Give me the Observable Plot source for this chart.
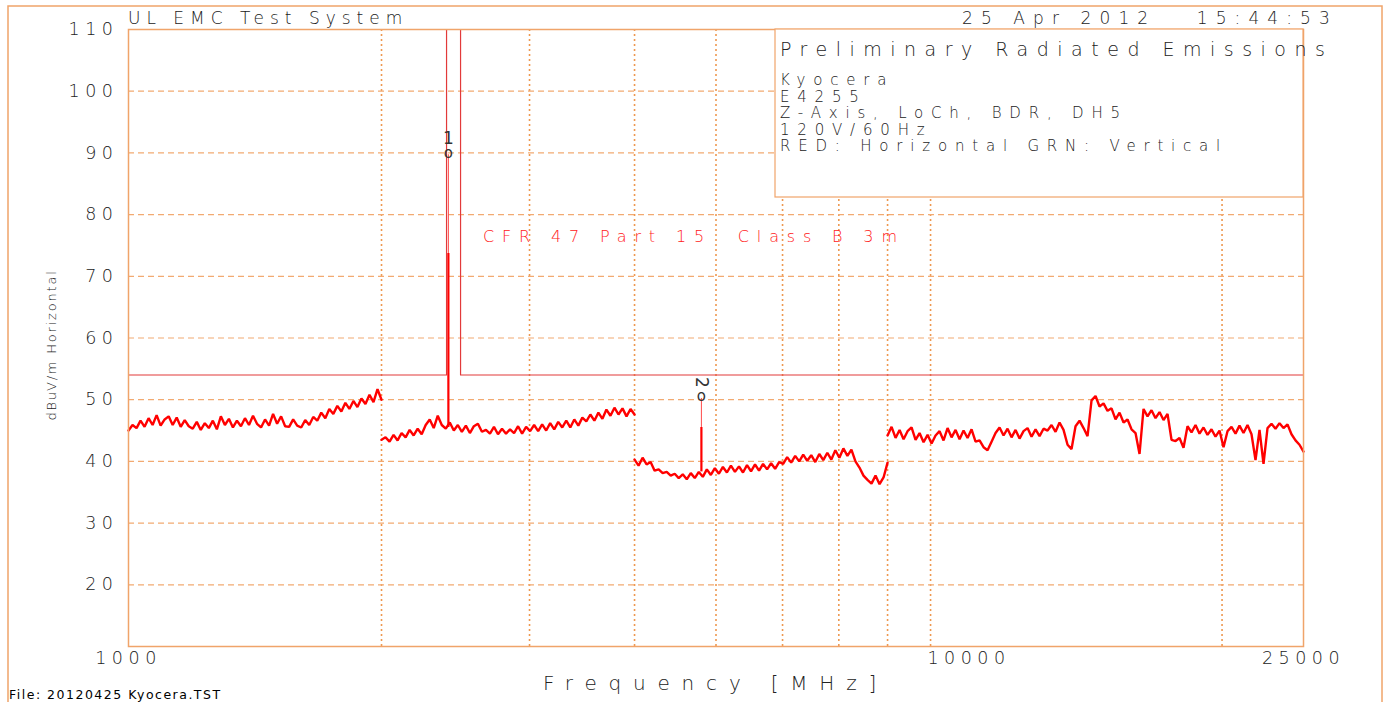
<!DOCTYPE html>
<html><head><meta charset="utf-8">
<script src="https://cdn.jsdelivr.net/npm/d3@7"></script>
<script src="https://cdn.jsdelivr.net/npm/@observablehq/plot@0.6"></script>
<style>
html,body{margin:0;padding:0;background:#fff;}
#chart{width:1393px;height:702px;overflow:hidden;}
</style></head><body><div id="chart"></div>
<script>
// ---- data ----
// sweep bands (MHz) and measured levels (dBuV/m, horizontal)
const band1 = {start: 1000, stop: 2000};
const band1Levels = [45.0,45.9,45.4,46.6,45.6,47.0,45.9,47.5,45.8,46.8,47.3,45.9,47.1,45.6,46.7,45.7,45.3,46.4,45.1,46.2,45.4,46.6,45.2,47.3,45.9,46.9,45.5,46.6,45.7,47.0,45.9,47.4,46.1,45.5,46.8,45.8,47.7,46.1,47.3,45.7,45.6,46.8,45.8,45.5,46.7,45.9,47.2,46.6,47.9,47.0,48.5,47.7,49.0,48.1,49.5,48.5,49.8,48.8,50.2,49.3,50.8,49.6,51.7,50.0];
const band2 = {start: 2000, stop: 4000};
const band2Levels = [43.5,43.9,43.2,44.3,43.4,44.6,43.9,45.1,44.2,45.3,44.4,45.9,46.8,45.4,47.4,45.9,45.3,46.3,45.0,45.9,44.8,45.8,44.6,45.7,46.1,44.8,45.1,44.5,45.6,44.4,45.3,44.5,45.2,44.6,45.7,44.5,45.6,44.9,45.9,44.9,46.0,45.0,46.2,45.2,46.4,45.5,46.6,45.5,46.8,45.8,47.1,46.5,47.6,46.6,47.9,46.9,48.4,47.4,48.7,47.6,48.6,47.3,48.5,47.6];
const band3 = {start: 4000, stop: 8000};
const band3Levels = [40.3,39.3,40.6,39.5,39.9,38.5,38.7,38.1,38.3,37.7,38.0,37.3,37.9,37.1,38.1,37.3,38.3,37.5,38.7,37.8,38.9,38.0,39.1,38.2,39.3,38.3,39.2,38.2,39.4,38.4,39.5,38.5,39.6,38.7,39.7,38.8,39.9,39.6,40.7,39.8,40.9,40.0,41.1,40.1,41.0,39.9,41.2,40.2,41.4,40.3,41.8,40.6,42.1,40.9,41.9,40.0,39.0,37.7,37.0,36.4,37.7,36.3,37.4,39.8];
const band4 = {start: 8000, stop: 25000};
const band4Levels = [44.2,45.6,43.8,45.1,43.6,44.9,45.5,43.5,44.6,43.1,44.3,42.9,44.2,44.9,43.4,45.4,43.9,45.1,43.6,45.0,43.8,45.2,43.2,43.4,42.3,41.8,43.2,44.6,45.5,44.2,45.3,43.9,45.1,43.7,44.9,45.4,44.0,45.2,44.1,45.3,45.0,45.9,44.8,46.3,45.1,42.7,42.0,45.7,46.6,45.4,44.1,49.9,50.6,48.9,49.4,48.2,48.6,46.8,47.9,46.3,46.8,45.2,44.6,41.2,48.5,47.3,48.3,47.0,48.0,46.7,47.7,43.5,43.3,43.8,42.2,45.7,44.7,45.9,44.5,45.5,44.3,45.2,44.0,45.0,42.3,44.9,45.6,44.5,45.8,44.6,45.9,44.4,40.2,45.1,39.6,45.4,46.1,45.3,46.2,45.4,46.0,44.4,43.4,42.7,41.6];

// CFR 47 Part 15 Class B 3 m limit (restricted band edges 2390 / 2483.5 MHz)
const limitFreq  = [1000, 2390, 2390, 2483.5, 2483.5, 25000];
const limitLevel = [54, 54, 110, 110, 54, 54];
const limitPart  = ["low", "low", "low", "high", "high", "high"];

// markers: fundamental and 2nd harmonic
const markerFreq  = [2402, 4804];
const markerLabel = ["1", "2"];
const markerLevel = [89.7, 50.2];
const spikeTop    = [73.7, 45.5];
const spikeBase   = [45.5, 38.3];
const markerLabelRotate = [0, 90];

// axes
const xTickValues = [1000, 10000, 25000];
const xGridValues = [2000, 3000, 4000, 5000, 6000, 7000, 8000, 9000, 20000];
const yTickValues = [20, 30, 40, 50, 60, 70, 80, 90, 100, 110];
const yGridValues = [20, 30, 40, 50, 60, 70, 80, 90, 100];

// texts
const titleText = "UL EMC Test System";
const dateText = "25 Apr 2012   15:44:53";
const boxTitle = "Preliminary Radiated Emissions";
const boxLines = ["Kyocera", "E4255", "Z-Axis, LoCh, BDR, DH5", "120V/60Hz", "RED: Horizontal GRN: Vertical"];
const limitText = "CFR 47 Part 15  Class B 3m";
const xLabel = "Frequency [MHz]";
const yLabel = "dBuV/m Horizontal";
const fileText = "File: 20120425 Kyocera.TST";

// ---- build tables ----
const bands = [[band1, band1Levels], [band2, band2Levels], [band3, band3Levels], [band4, band4Levels]];
const trace = bands.flatMap(([b, lv], k) => lv.map((v, i) => ({
  band: k, f: b.start * Math.pow(b.stop / b.start, i / (lv.length - 1)), v
})));
const limit = limitFreq.map((f, i) => ({f, v: limitLevel[i], part: limitPart[i]}));
const markers = markerFreq.map((f, i) => ({f, label: markerLabel[i], level: markerLevel[i], top: spikeTop[i], base: spikeBase[i], rot: markerLabelRotate[i]}));

const ORANGE = "#f0a46a";
const FONT = "DejaVu Sans";

const plot = Plot.plot({
  width: 1393, height: 702,
  marginLeft: 128, marginRight: 90, marginTop: 29, marginBottom: 56,
  style: {fontFamily: FONT, background: "#fff", overflow: "visible"},
  x: {type: "log", domain: [1000, 25000], ticks: xTickValues, tickFormat: d => String(d), label: null, tickSize: 0, tickPadding: 5},
  y: {domain: [10, 110], ticks: yTickValues, label: null, tickSize: 0, tickPadding: 10},
  marks: [
    Plot.ruleX(xGridValues, {stroke: "#ee9850", strokeWidth: 1.6, strokeDasharray: "2,3"}),
    Plot.ruleY(yGridValues, {stroke: "#f2aa72", strokeWidth: 1.2, strokeDasharray: "6,4"}),
    Plot.line(limit, {x: "f", y: "v", z: "part", stroke: "#e23a3a", strokeWidth: 1.2}),
    Plot.line(trace, {x: "f", y: "v", z: "band", stroke: "#ff0000", strokeWidth: 2.4, strokeLinejoin: "miter"}),
    Plot.ruleX(markers, {x: "f", y1: "base", y2: "top", stroke: "#ff0000", strokeWidth: 2.2}),
    Plot.ruleX(markers, {x: "f", y1: "top", y2: "level", stroke: "#ff4a4a", strokeWidth: 1}),
    Plot.text(markers, {x: "f", y: "level", text: () => "o", fontSize: 15, fill: "#333", dy: -2}),
    Plot.text(markers, {x: "f", y: "level", text: "label", rotate: "rot", fontSize: 17, fill: "#333", dy: -16}),
    Plot.frame({stroke: ORANGE, strokeWidth: 1.5})
  ]
});
document.getElementById("chart").appendChild(plot);

const svg = d3.select(plot);
svg.selectAll("g[aria-label='x-axis tick label'] text, g[aria-label='y-axis tick label'] text")
  .attr("font-weight", 200).attr("fill", "#222").attr("letter-spacing", 5.5);
svg.selectAll("g[aria-label='x-axis tick label']").attr("font-size", 17.5);
svg.selectAll("g[aria-label='y-axis tick label']").attr("font-size", 17.5);

// outer border
svg.append("rect").attr("x", 8).attr("y", 6).attr("width", 1374).attr("height", 720)
  .attr("fill", "none").attr("stroke", ORANGE).attr("stroke-width", 1.5);

// info box
svg.append("rect").attr("x", 775).attr("y", 29).attr("width", 528).attr("height", 168)
  .attr("fill", "#fff").attr("stroke", ORANGE).attr("stroke-width", 1.2);

function txt(s, x, y, size, opts = {}) {
  const t = svg.append("text").attr("x", x).attr("y", y).attr("font-family", FONT)
    .attr("font-size", size).attr("font-weight", opts.weight || 200)
    .attr("fill", opts.fill || "#222").attr("letter-spacing", opts.ls || 0)
    .attr("text-anchor", opts.anchor || "start")
    .style("white-space", "pre").text(s);
  if (opts.transform) t.attr("transform", opts.transform);
  return t;
}
txt(titleText, 128, 24, 17, {ls: 6.0});
txt(dateText, 962, 24, 17, {ls: 8.1});
txt(boxTitle, 780, 56, 19, {ls: 8.5});
boxLines.forEach((s, i) => txt(s, 780, 85 + i * 16.6, 15, {ls: 7.8}));
txt(limitText, 483, 242, 16, {ls: 7.85, fill: "#ff2020"});
txt(xLabel, 543, 690, 20, {ls: 11.8});
txt(yLabel, 0, 0, 13, {ls: 1.8, anchor: "middle", transform: "translate(56,345) rotate(-90)"});
txt(fileText, 9, 699, 12.5, {weight: 400, fill: "#000", ls: 1.5});
</script></body></html>
